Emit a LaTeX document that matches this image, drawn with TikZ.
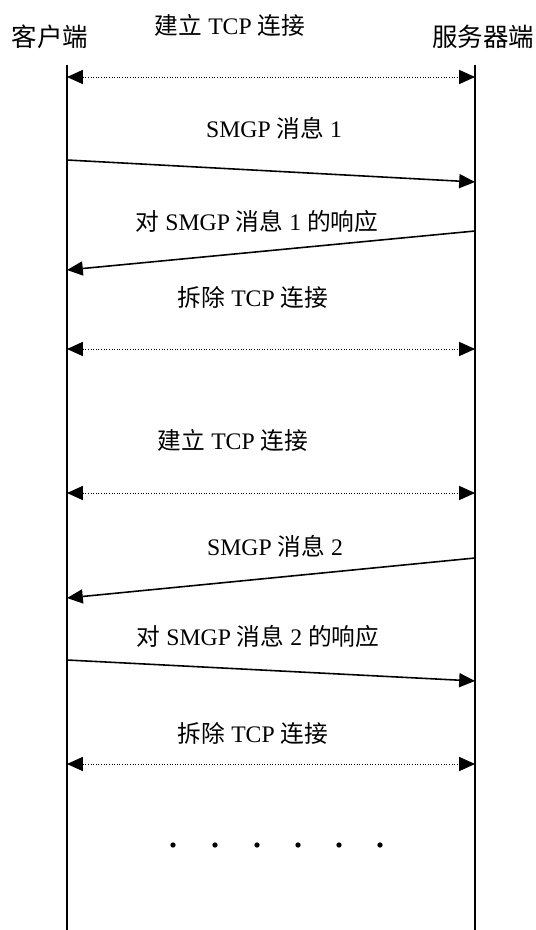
\documentclass[tikz,border=0pt]{standalone}
\usepackage{fontspec}
\setmainfont{Liberation Serif}
\newfontfamily\cjk{Noto Sans CJK SC}
\usetikzlibrary{arrows.meta,positioning}

\tikzset{
  party/.style={font=\cjk\fontsize{14.5}{16}\selectfont},
  msg/.style={font=\fontsize{13.5}{15}\selectfont, inner sep=1pt},
  tcplink/.style={densely dotted, line width=0.5pt,
    {Triangle[length=9pt,width=8pt]}-{Triangle[length=9pt,width=8pt]}},
  send/.style={line width=0.9pt, -{Triangle[length=9pt,width=8pt]}},
  life/.style={line width=0.8pt},
  dot/.style={circle, fill, inner sep=0pt, minimum size=3pt}
}

\begin{document}
\begin{tikzpicture}[x=0.02cm,y=-0.02cm]
    \useasboundingbox (0,0) rectangle (535,930);

    % Parties
    \node[party] (client) at (50,37) {客户端};
    \node[party] (server) at (483,37) {服务器端};

    % Points on the two lifelines
    \foreach \n/\yc/\ys in {top/65/65, a/77/77, b/160/182, c/270/231, d/349/349,
                            e/493/493, f/598/558, g/660/681, h/764/764, bot/930/930} {
        \coordinate (c\n) at (67,\yc);
        \coordinate (s\n) at (475,\ys);
    }

    % Lifelines
    \draw[life] (ctop) -- (cbot);
    \draw[life] (stop) -- (sbot);

    % First session
    \node[msg] (open1) at (230,25) {{\cjk 建立} TCP {\cjk 连接}};
    \draw[tcplink] (ca) -- (sa);
    \node[msg] (msg1) at (274,128) {SMGP {\cjk 消息} 1};
    \draw[send] (cb) -- (sb);
    \node[msg] (resp1) at (257,221) {{\cjk 对} SMGP {\cjk 消息} 1 {\cjk 的响应}};
    \draw[send] (sc) -- (cc);
    \node[msg] (close1) at (253,297) {{\cjk 拆除} TCP {\cjk 连接}};
    \draw[tcplink] (cd) -- (sd);

    % Second session
    \node[msg] (open2) at (233,440) {{\cjk 建立} TCP {\cjk 连接}};
    \draw[tcplink] (ce) -- (se);
    \node[msg] (msg2) at (275,546) {SMGP {\cjk 消息} 2};
    \draw[send] (sf) -- (cf);
    \node[msg] (resp2) at (258,636) {{\cjk 对} SMGP {\cjk 消息} 2 {\cjk 的响应}};
    \draw[send] (cg) -- (sg);
    \node[msg] (close2) at (253,733) {{\cjk 拆除} TCP {\cjk 连接}};
    \draw[tcplink] (ch) -- (sh);

    % More sessions follow
    \foreach \i/\x in {1/173,2/215,3/257,4/298,5/339,6/380}
        \node[dot] (more\i) at (\x,845) {};
\end{tikzpicture}
\end{document}
